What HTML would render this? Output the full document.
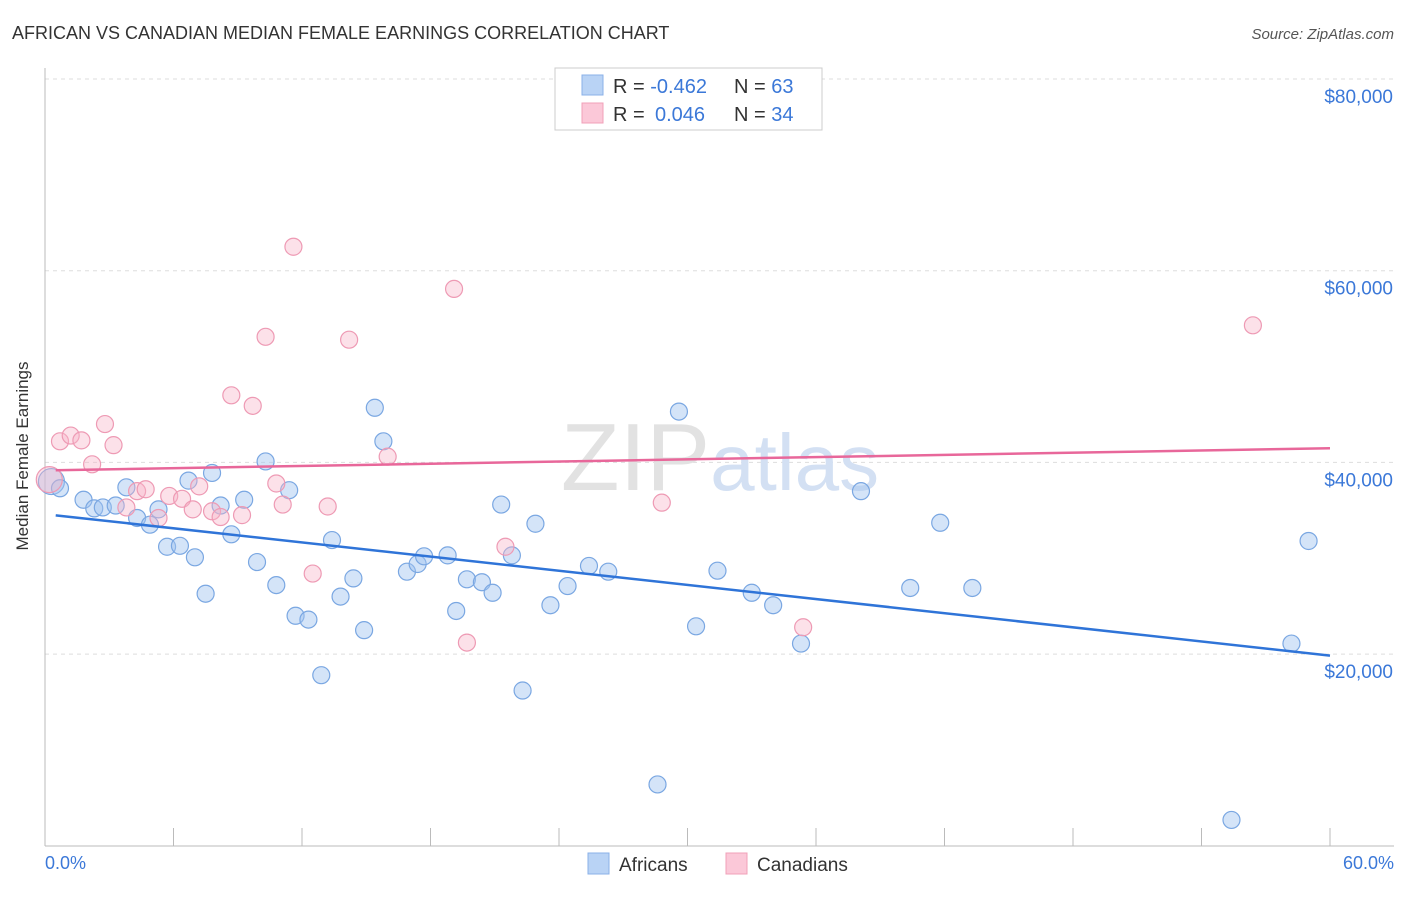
<!DOCTYPE html>
<html><head><meta charset="utf-8"><style>
body{margin:0;background:#fff;font-family:"Liberation Sans",sans-serif;}
svg text{font-family:"Liberation Sans",sans-serif;}
</style></head><body>
<svg id="chart" width="1406" height="892">
<text x="12" y="39" font-size="18" fill="#333">AFRICAN VS CANADIAN MEDIAN FEMALE EARNINGS CORRELATION CHART</text>
<text x="1394" y="39" font-size="15" fill="#555" font-style="italic" text-anchor="end">Source: ZipAtlas.com</text>
<g id="grid"></g>
<text x="720" y="490" font-size="96" fill="#e2e2e2" text-anchor="middle" font-family="Liberation Serif">ZIP<tspan fill="#d3e0f3" font-family="Liberation Sans" font-size="80">atlas</tspan></text>
<text x="28" y="456" font-size="17" fill="#333" text-anchor="middle" transform="rotate(-90 28 456)">Median Female Earnings</text>
<text x="45" y="869" font-size="18" fill="#3b78d8">0.0%</text>
<text x="1394" y="869" font-size="18" fill="#3b78d8" text-anchor="end">60.0%</text>
<g id="pts"></g>
<g id="lines"></g>
<g>
<rect x="555" y="68" width="267" height="62" fill="#fff" stroke="#ccc"/>
<rect x="582" y="75" width="21" height="20" fill="#b9d3f5" stroke="#8ab0e8"/>
<rect x="582" y="103" width="21" height="20" fill="#fbc8d8" stroke="#f0a0b8"/>
<text x="613" y="93" font-size="20" fill="#333">R = <tspan fill="#3b78d8">-0.462</tspan><tspan x="734">N = </tspan><tspan fill="#3b78d8">63</tspan></text>
<text x="613" y="121" font-size="20" fill="#333">R = <tspan fill="#3b78d8" x="655">0.046</tspan><tspan x="734">N = </tspan><tspan fill="#3b78d8">34</tspan></text>
</g>
<g>
<rect x="588" y="853" width="21" height="21" fill="#b9d3f5" stroke="#8ab0e8"/>
<text x="619" y="871" font-size="19" fill="#333">Africans</text>
<rect x="726" y="853" width="21" height="21" fill="#fbc8d8" stroke="#f0a0b8"/>
<text x="757" y="871" font-size="19" fill="#333">Canadians</text>
</g>
</svg>
<script>
const yTicks=[20000,40000,60000,80000];
const yTickLabels=["$20,000","$40,000","$60,000","$80,000"];
const afX=[0.3,0.7,1.8,2.3,2.7,3.3,3.8,4.3,4.9,5.3,5.7,6.3,6.7,7.0,7.5,7.8,8.2,8.7,9.3,9.9,10.3,10.8,11.4,11.7,12.3,12.9,13.4,13.8,14.4,14.9,15.4,15.8,16.9,17.4,17.7,18.8,19.2,19.7,20.4,20.9,21.3,21.8,22.3,22.9,23.6,24.4,25.4,26.3,28.6,29.6,30.4,31.4,33.0,34.0,35.3,38.1,40.4,41.8,43.3,55.4,58.2,59.0];
const afY=[38000,37300,36100,35200,35300,35500,37400,34200,33500,35100,31200,31300,38100,30100,26300,38900,35500,32500,36100,29600,40100,27200,37100,24000,23600,17800,31900,26000,27900,22500,45700,42200,28600,29400,30200,30300,24500,27800,27500,26400,35600,30300,16200,33600,25100,27100,29200,28600,6400,45300,22900,28700,26400,25100,21100,37000,26900,33700,26900,2700,21100,31800];
const caX=[0.2,0.7,1.2,1.7,2.2,2.8,3.2,3.8,4.3,4.7,5.3,5.8,6.4,6.9,7.2,7.8,8.2,8.7,9.2,9.7,10.3,10.8,11.1,11.6,12.5,13.2,14.2,16.0,19.1,19.7,21.5,28.8,35.4,56.4];
const caY=[38200,42200,42800,42300,39800,44000,41800,35300,37000,37200,34200,36500,36200,35100,37500,34900,34300,47000,34500,45900,53100,37800,35600,62500,28400,35400,52800,40600,58100,21200,31200,35800,22800,54300];
const X0=45,X1=1330,YB=846;
const xs=v=>X0+v/60*(X1-X0);
const ys=v=>79+(80000-v)/20000*191.7;
const NS="http://www.w3.org/2000/svg";
function mk(t,a,p){const e=document.createElementNS(NS,t);for(const k in a)e.setAttribute(k,a[k]);p.appendChild(e);return e;}
const g=document.getElementById('grid');
yTicks.forEach((t,i)=>{
 const l=mk('line',{x1:45,x2:1394,y1:ys(t),y2:ys(t),stroke:'#ddd','stroke-dasharray':'4,4'},g);
 
 
 const tx=mk('text',{x:1393,y:ys(t)+24,'font-size':19,fill:'#3b78d8','text-anchor':'end'},g);
 tx.textContent=yTickLabels[i];
 
 
});
mk('line',{x1:45,x2:1394,y1:79,y2:79,stroke:'#ddd','stroke-dasharray':'4,4'},g);
mk('line',{x1:45,x2:45,y1:68,y2:YB,stroke:'#bbb'},g);
mk('line',{x1:45,x2:1394,y1:YB,y2:YB,stroke:'#bbb'},g);
for(let i=0;i<=10;i++){const t=mk('line',{x1:xs(i*6),x2:xs(i*6),y1:YB,y2:YB-18,stroke:'#bbb'},g);
 
 }
const p=document.getElementById('pts');
function pts(X,Y,fill,stroke,name){X.forEach((x,i)=>{
 const c=mk('circle',{cx:xs(x),cy:ys(Y[i]),r:i===0?13:8.5,fill:fill,stroke:stroke,'stroke-width':1.2},p);
 
 });}
pts(afX,afY,'rgba(160,195,240,0.45)','#7aa7e2','african-point');
pts(caX,caY,'rgba(248,180,200,0.4)','#ee9ab4','canadian-point');
function fit(X,Y){const n=X.length;let mx=0,my=0;X.forEach((x,i)=>{mx+=x;my+=Y[i]});mx/=n;my/=n;let sxy=0,sxx=0;X.forEach((x,i)=>{sxy+=(x-mx)*(Y[i]-my);sxx+=(x-mx)**2});const b=sxy/sxx;return [my-b*mx,b];}
const L=document.getElementById('lines');
[[afX,afY,'#2f74d8','african-trend-line'],[caX,caY,'#e8679a','canadian-trend-line']].forEach(([X,Y,c,n])=>{
 const [a,b]=fit(X,Y);
 const l=mk('line',{x1:xs(0.5),y1:ys(a+b*0.5),x2:xs(60),y2:ys(a+b*60),stroke:c,'stroke-width':2.5},L);
 
 
});
</script>
</body></html>
